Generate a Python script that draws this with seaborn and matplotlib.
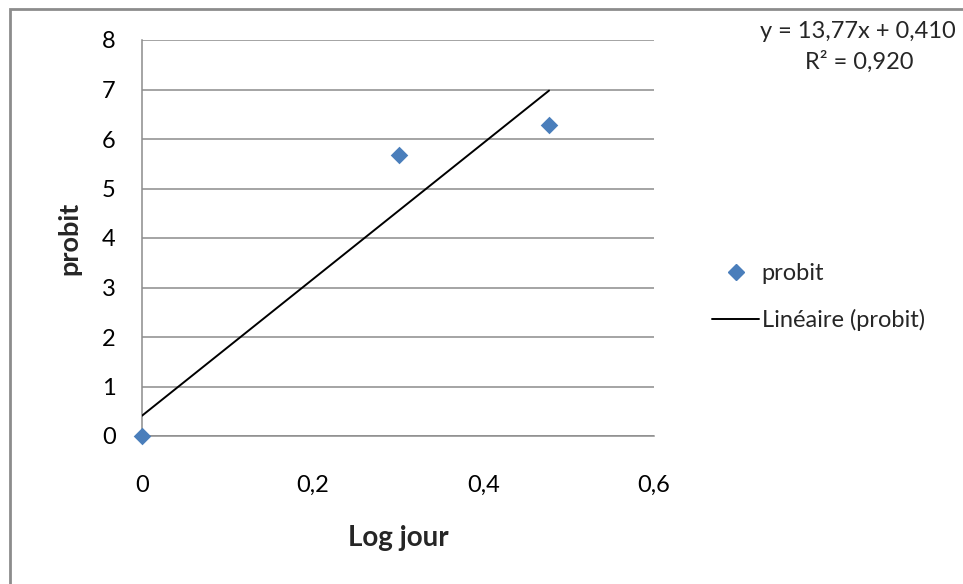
import matplotlib
matplotlib.use("Agg")
import matplotlib.pyplot as plt
from matplotlib.patches import Rectangle
from matplotlib.lines import Line2D
import numpy as np
import pandas as pd
import seaborn as sns

# Data
log_jour = [0.0, 0.301, 0.477]
probit = [0.0, 5.67, 6.28]
slope = 13.77
intercept = 0.410
r2 = 0.920
x_ticks = [0, 0.2, 0.4, 0.6]
x_tick_labels = ["0", "0,2", "0,4", "0,6"]
y_ticks = [0, 1, 2, 3, 4, 5, 6, 7, 8]

sns.set_theme(style="white")
plt.rcParams["font.family"] = ["Lato", "DejaVu Sans"]

fig = plt.figure(figsize=(9.63, 5.84), dpi=100)
ax = fig.add_axes([142 / 963, 1 - 436 / 584, (654 - 142) / 963, (436 - 40) / 584])

# Chart-area frame
fig.patches.append(Rectangle((10 / 963, -0.1), 1.2, 1 - 9 / 584 + 0.1,
                             transform=fig.transFigure, fill=False,
                             edgecolor="#8c8c8c", linewidth=2.0, zorder=0))

df = pd.DataFrame({"Log jour": log_jour, "probit": probit})
grey = "#8c8c8c"
blue = "#4A7EBB"

# Linear trendline over the data range
xs = np.array([min(log_jour), max(log_jour)])
trend = pd.DataFrame({"x": xs, "y": slope * xs + intercept})
sns.lineplot(data=trend, x="x", y="y", ax=ax, color="black", linewidth=1.4, zorder=3)

sns.scatterplot(data=df, x="Log jour", y="probit", ax=ax, marker="D", s=80,
                color=blue, edgecolor=blue, linewidth=0, zorder=4,
                clip_on=False)

ax.set_xlim(0, 0.6)
ax.set_ylim(0, 8)
ax.set_xticks(x_ticks)
ax.set_xticklabels(x_tick_labels)
ax.set_yticks(y_ticks)
ax.yaxis.grid(True, color=grey, linewidth=1.1)
ax.xaxis.grid(False)
ax.set_axisbelow(True)
for side in ["top", "right"]:
    ax.spines[side].set_visible(False)
for side in ["left", "bottom"]:
    ax.spines[side].set_color(grey)
    ax.spines[side].set_linewidth(1.1)
ax.tick_params(axis="both", which="major", direction="out", length=10, width=1.1,
               color=grey, labelsize=17, labelcolor="black")
ax.tick_params(axis="x", pad=18)
ax.tick_params(axis="y", pad=9)

ax.set_xlabel("Log jour", fontsize=20, fontweight="bold", labelpad=21)
ax.set_ylabel("probit", fontsize=19.5, fontweight="bold", labelpad=15)

# Trendline equation
eq = "y = {} x + {}".format(f"{slope:.2f}".replace(".", ","),
                           f"{intercept:.3f}".replace(".", ",")).replace(" x", "x")
fig.text(858 / 963, 1 - 32 / 584, eq, ha="center", va="center", fontsize=17)
fig.text(859 / 963, 1 - 62 / 584, "R² = " + f"{r2:.3f}".replace(".", ","),
         ha="center", va="center", fontsize=17)

# Legend
handles = [
    Line2D([], [], marker="D", linestyle="none", color=blue, markersize=8.5),
    Line2D([], [], color="black", linewidth=1.4),
]
fig.legend(handles, ["probit", "Linéaire (probit)"], loc="center left",
           bbox_to_anchor=(712 / 963, 1 - 297 / 584), frameon=False, fontsize=17,
           handlelength=2.0, handletextpad=0.1, labelspacing=1.05,
           borderpad=0, borderaxespad=0)

fig.savefig("out.png", dpi=100)
